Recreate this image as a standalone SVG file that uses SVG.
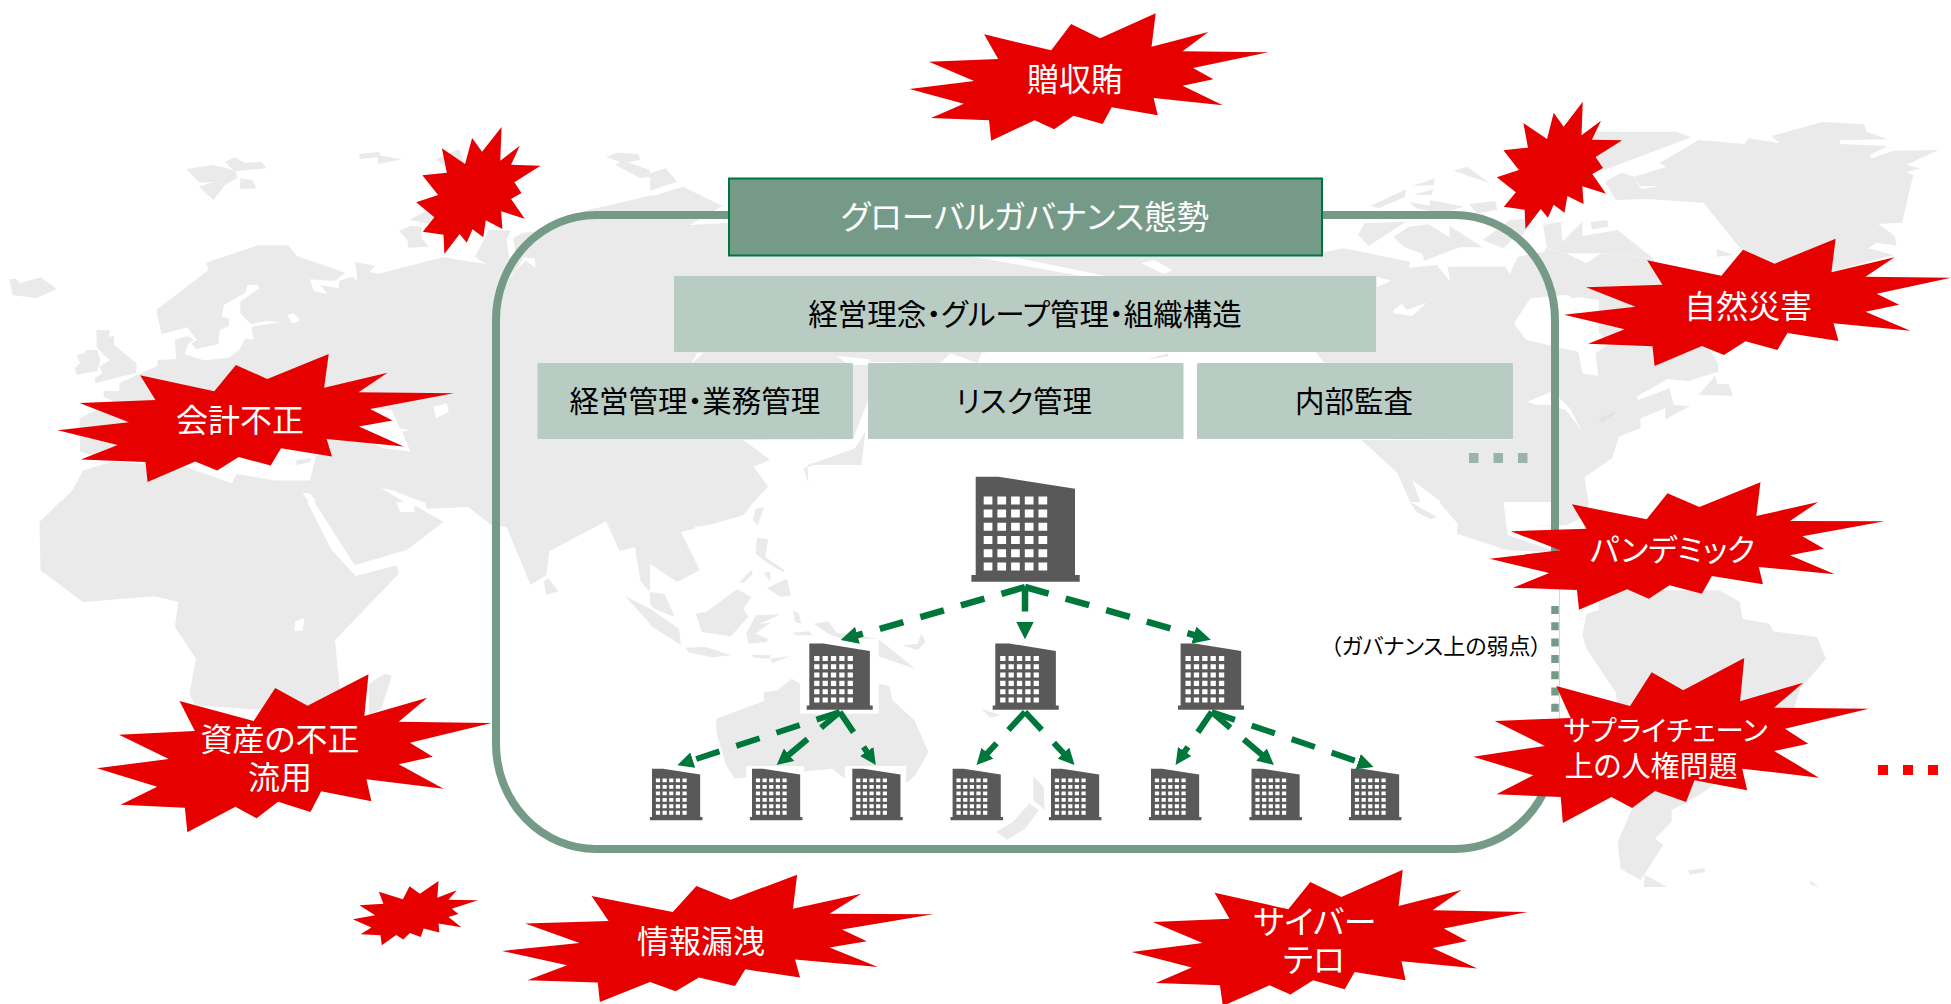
<svg xmlns="http://www.w3.org/2000/svg" width="1951" height="1004" viewBox="0 0 1951 1004">
<style>
text{font-family:"Noto Sans CJK JP","Noto Sans",sans-serif;text-anchor:middle;dominant-baseline:central;font-feature-settings:"palt"}
.g{fill:#EAEAEA}.w{fill:#fff}
.b{fill:#E60000}
.t{fill:#fff;font-size:32px}
.s{font-size:29px}
.k{fill:#000;font-size:29.500px}
.box{fill:#B9CCC3}
.c{fill:none;stroke:#00773A;stroke-dasharray:24.5 17.7;marker-end:url(#ah)}
.c1{stroke-width:6.500}.c2{stroke-width:6}
.bd{fill:#595959}.win{fill:#fff}
</style>
<defs>
<marker id="ah" markerWidth="2.700" markerHeight="2.700" refX="1.100" refY="1.350" orient="auto"><path d="M0,0L2.700,1.350L0,2.700z" fill="#00773A"/></marker>
<g id="bld"><path class="bd" d="M0,0H22.7L99.3,12V98.3H104V105H-4.3V98.3H0z"/>
<path class="win" d="M8,19.7h8.7v8h-8.7zM21.7,19.7h8.7v8h-8.7zM35.4,19.7h8.7v8h-8.7zM49.1,19.7h8.7v8h-8.7zM62.8,19.7h8.7v8h-8.7zM8,32.9h8.7v8h-8.7zM21.7,32.9h8.7v8h-8.7zM35.4,32.9h8.7v8h-8.7zM49.1,32.9h8.7v8h-8.7zM62.8,32.9h8.7v8h-8.7zM8,46.1h8.7v8h-8.7zM21.7,46.1h8.7v8h-8.7zM35.4,46.1h8.7v8h-8.7zM49.1,46.1h8.7v8h-8.7zM62.8,46.1h8.7v8h-8.7zM8,59.3h8.7v8h-8.7zM21.7,59.3h8.7v8h-8.7zM35.4,59.3h8.7v8h-8.7zM49.1,59.3h8.7v8h-8.7zM62.8,59.3h8.7v8h-8.7zM8,72.5h8.7v8h-8.7zM21.7,72.5h8.7v8h-8.7zM35.4,72.5h8.7v8h-8.7zM49.1,72.5h8.7v8h-8.7zM62.8,72.5h8.7v8h-8.7zM8,85.7h8.7v8h-8.7zM21.7,85.7h8.7v8h-8.7zM35.4,85.7h8.7v8h-8.7zM49.1,85.7h8.7v8h-8.7zM62.8,85.7h8.7v8h-8.7z"/></g>
</defs>
<g id="map">
<g transform="translate(0,0) scale(.4145,.3333)">
<polygon class="g" points="377,930 503,810 497,788 622,736 695,736 716,768 833,818 808,843 748,838 757,873 790,882 773,855 818,865 818,843 850,830 862,842 857,786 905,797 892,815 912,822 1068,772 1172,792 1146,770 1180,690 1232,692 1222,718 1230,790 1300,700 1412,632 1575,585 1575,1506 147,1506 175,1470 200,1412 270,1385 193,1355 192,1255 275,1205 250,1190 250,1173 288,1172 288,1150 380,1097 380,1080 425,1078 422,1020 452,1008 468,1020 455,1030 445,1063 492,1081 552,1073 577,1050 592,1015 612,1020 607,980 677,967 647,962 605,973 580,940 580,905 625,865 622,855 597,855 592,878 540,915 535,950 552,955 552,978 530,990 527,1032 472,1048 462,1030 475,1020 452,982 390,1003"/>
<polygon class="w" points="265,1385 445,1400 560,1450 570,1422 663,1442 748,1442 762,1370 800,1340 500,1300"/>
<polygon class="w" points="893,1225 945,1230 965,1285 990,1292 970,1295 990,1355 925,1345 850,1300"/>
<polygon class="w" points="1045,1220 1078,1210 1083,1235 1052,1255"/>
<polygon class="w" points="693,945 708,940 722,955 720,965 705,970"/>
<polygon class="w" points="730,1480 747,1480 765,1506 745,1506"/>
<polygon class="w" points="920,1465 945,1470 1020,1506 975,1506"/>
<polygon class="w" points="1195,838 1220,838 1268,782 1292,803 1290,775 1265,772 1232,830"/>
<polygon class="g" points="715,1380 752,1375 748,1387 715,1395"/>
<polygon class="g" points="23,838 38,836 48,850 98,832 137,867 88,895 30,885"/>
<polygon class="g" points="450,507 512,495 547,505 570,515 572,535 543,555 515,600 480,560 515,545 482,548"/>
<polygon class="g" points="543,485 567,472 590,488 632,486 643,505 565,514"/>
<polygon class="g" points="580,535 610,541 618,565 578,567"/>
<polygon class="g" points="867,462 915,456 918,467 970,478 912,493 912,472 868,477"/>
<polygon class="g" points="1052,478 1108,447 1120,490 1075,500"/>
<polygon class="g" points="988,660 1040,625 1070,680"/>
<polygon class="g" points="963,693 990,677 1017,680 1017,715 1035,740 985,743 983,720"/>
<polygon class="g" points="1238,715 1262,698 1335,690 1362,720 1320,708 1265,770 1245,770"/>
<polygon class="g" points="233,990 265,990 262,1010 275,1008 275,1035 330,1090 328,1120 290,1130 230,1150 228,1135 248,1120 240,1100 265,1080 250,1065 233,1040"/>
<polygon class="g" points="185,1065 205,1060 207,1050 235,1050 242,1080 235,1112 185,1125 180,1105 193,1090"/>
<polygon class="g" points="1462,470 1490,458 1540,462 1545,480 1515,487 1568,510 1568,530 1545,535 1485,495 1495,485"/>
</g>
<g transform="translate(650,0) scale(.4145,.3333)">
<polygon class="g" points="0,520 38,505 65,545 0,572"/>
<polygon class="g" points="0,590 80,560 175,618 95,675 200,668 1568,700 1568,828 1300,1000 800,1058 790,1090 725,1060 700,1090 530,1085 525,1205 490,1318 225,1320 290,1380 250,1400 285,1460 250,1506 0,1506"/>
<polygon class="w" points="770,768 880,772 1100,828 1040,828"/>
<polygon class="w" points="1185,790 1215,780 1260,810 1240,822"/>
<polygon class="w" points="100,1090 130,1058 115,1058"/>
<polygon class="w" points="450,1068 530,1078 530,1095 480,1095"/>
<polygon class="g" points="370,1405 395,1395 510,1395 520,1295 495,1345 440,1370 380,1395 382,1450"/>
<polygon class="g" points="1200,1078 1250,1060 1250,1070"/>
</g>
<g transform="translate(1300,0) scale(.4152,.3333)">
<polygon class="g" points="0,770 105,745 265,785 262,803 330,795 362,845 355,800 495,800 505,822 525,770 590,755 590,745 640,760 690,790 725,760 850,775 1007,1090 1007,1115 935,1143 885,1137 810,1190 815,1200 890,1165 900,1215 940,1218 880,1258 880,1225 820,1255 820,1285 768,1310 752,1375 685,1432 695,1506 265,1506 235,1420 148,1320 513,1318 513,1090 60,1090 0,1000"/>
<polygon class="w" points="185,830 220,842 185,862"/>
<polygon class="w" points="225,930 245,912 258,930 305,908 270,948 225,940"/>
<polygon class="w" points="555,895 640,885 720,900 720,1000 745,1030 712,1060 718,1128 680,1120 670,1055 545,1020 515,970"/>
<polygon class="w" points="548,1205 605,1175 625,1195 650,1225 680,1297 665,1270 640,1230 600,1215 570,1215"/>
<polygon class="w" points="270,1440 340,1506 290,1506"/>
<polygon class="g" points="625,855 650,855 695,885 655,895"/>
<polygon class="g" points="725,915 840,940 840,1030 760,1010 720,975"/>
<polygon points="720,1255 765,1232 755,1245 725,1270" fill="#E2E2E2"/>
<polygon class="g" points="960,1185 1000,1128 1005,1152 1033,1152 1043,1187"/>
<polygon class="g" points="1003,747 1045,765 1005,770"/>
<polygon class="g" points="960,420 1070,432 1080,415 1155,430 1135,408 1258,366 1358,373 1365,395 1418,418 1300,420 1300,432 1415,438 1372,465 1378,475 1430,452 1538,450 1460,495 1495,505 1460,517 1477,525 1450,668 1393,672 1433,708 1437,737 1390,728 1368,745 1430,765 1280,815 1100,790 1050,730 972,608 835,597 815,570 865,558 820,558 805,530 883,500 865,490"/>
<polygon class="g" points="700,395 905,395 942,412 733,510 715,470"/>
<polygon class="g" points="735,545 775,518 805,530 835,597 760,600"/>
<polygon class="g" points="170,618 255,568 253,590 190,625"/>
<polygon class="g" points="272,558 325,535 322,555"/>
<polygon class="g" points="272,585 322,568 316,585"/>
<polygon class="g" points="370,512 403,500 457,550"/>
<polygon class="g" points="262,605 312,617 313,600 395,620 340,640 280,625"/>
<polygon class="g" points="408,612 470,603 475,630 425,640"/>
<polygon class="g" points="140,705 155,670 255,665 165,738"/>
<polygon class="g" points="225,710 262,680 310,673 360,712 360,677 440,742 385,742 300,782 295,762 250,740"/>
<polygon class="g" points="505,660 560,655 540,700 510,720 490,745 440,720"/>
<polygon class="g" points="585,675 628,665 632,725 680,665 680,708 765,690 850,775 730,760 640,760 595,745"/>
<polygon class="g" points="700,665 740,660 743,680 703,688"/>
</g>
<g transform="translate(0,502) scale(.4145,.3333)">
<polygon class="g" points="147,-3 95,60 98,205 200,300 375,283 430,300 422,375 473,470 457,575 470,610 820,640 820,560 808,415 962,215 957,190 858,222 798,140 740,-3"/>
<polygon class="w" points="712,358 735,348 730,385 710,387"/>
<polygon class="g" points="890,545 928,515 945,522 920,620 890,640"/>
<polygon class="g" points="757,-3 856,190 982,143 1070,60 1000,10 1000,30 965,30 955,-3"/>
<polygon class="g" points="1030,20 1130,15 1186,70 1222,75 1280,248 1318,220 1325,148 1462,58 1495,148 1532,135 1545,238 1568,270 1568,-3 1025,-3"/>
<polygon class="g" points="1312,240 1322,228 1347,268 1318,280"/>
<polygon class="g" points="1508,282 1568,320 1568,365"/>
</g>
<g transform="translate(650,502) scale(.4145,.3333)">
<polygon class="g" points="0,0 250,0 225,40 140,70 75,90 120,205 65,240 0,185"/>
<polygon class="w" points="108,75 140,70 135,105 110,118"/>
<polygon class="g" points="255,20 275,15 260,70 248,55"/>
<polygon class="g" points="258,108 285,112 278,165 325,205 320,210 280,180 255,155"/>
<polygon class="g" points="0,270 35,275 60,345 10,320 0,305"/>
<polygon class="g" points="0,320 70,380 75,430 0,370"/>
<polygon class="g" points="110,335 135,330 210,262 245,285 225,320 237,345 195,403 125,390"/>
<polygon class="g" points="232,395 255,340 315,337 265,365 290,362 255,395 285,412 282,420 238,425"/>
<polygon class="g" points="85,437 135,435 195,460 150,466 95,452"/>
<polygon class="g" points="245,458 290,460 290,470 250,467"/>
<polygon class="g" points="290,470 340,462 295,483"/>
<polygon class="g" points="215,240 245,205 248,215 225,243"/>
<polygon class="g" points="275,212 290,210 290,240"/>
<polygon class="g" points="282,258 330,230 340,280 315,285"/>
<polygon class="g" points="345,325 360,335 365,365 350,360"/>
<polygon class="g" points="345,392 385,388 392,400 350,400"/>
<polygon class="g" points="395,365 430,358 450,392 500,400 550,410 640,500 555,465 500,430 430,395"/>
<polygon class="g" points="610,430 645,425 655,395 665,420 645,445"/>
<polygon class="g" points="160,650 275,597 275,570 308,565 342,530 362,545 552,545 578,552 585,595 638,655 672,750 640,820 618,845 470,830 440,800 205,830 183,790 160,690"/>
<polygon class="g" points="925,822 950,855 952,925 925,895"/>
<polygon class="g" points="835,990 875,960 915,905 938,925 905,980 862,1013"/>
<polygon class="g" points="800,620 845,640 820,647"/>
<rect class="w" x="362" y="410" width="190" height="225"/>
<rect class="w" x="232" y="792" width="140" height="70"/>
<rect class="w" x="470" y="792" width="148" height="70"/>
</g>
<g transform="translate(1300,502) scale(.4152,.3333)">
<polygon class="g" points="265,0 330,45 315,52 280,30"/>
<polygon class="g" points="335,0 490,0 500,100 620,150 500,145 378,95 380,65"/>
<polygon class="g" points="605,0 695,0 695,40 640,70 565,72 605,68"/>
<polygon class="g" points="690,335 720,325 720,300 790,265 1010,265 1060,300 1065,350 1130,365 1140,388 1245,405 1267,470 1205,560 1190,620 990,855 960,880 895,925 895,960 855,1010 875,1030 820,1135 772,1100 765,1020 800,920 760,570 690,440 680,400"/>
<polygon class="g" points="830,1118 885,1155 828,1155"/>
<polygon class="g" points="935,1105 975,1098 975,1110 938,1118"/>
<polygon class="g" points="1228,1135 1250,1155 1230,1148"/>
</g>
</g>
<g id="panel">
<rect x="496" y="215" width="1059" height="634" rx="100" ry="105" fill="none" stroke="#769A88" stroke-width="8"/>
<line x1="1555" y1="589" x2="1555" y2="719" stroke="#fff" stroke-width="9"/>
<line x1="1555" y1="606" x2="1555" y2="719" stroke="#769A88" stroke-width="7.500" stroke-dasharray="8 8.300"/>
<line x1="1559.500" y1="589" x2="1559.500" y2="719" stroke="#CFDCD6" stroke-width="1"/>
</g>
<g id="header"><rect x="729" y="178.500" width="593" height="77" fill="#769A88" stroke="#00773A" stroke-width="2"/><text class="t" x="1025" y="214" style="font-size:32.500px">グローバルガバナンス態勢</text></g>
<g id="box-top"><rect class="box" x="674" y="276" width="702" height="76" rx="1"/><text class="k" x="1025" y="312">経営理念・グループ管理・組織構造</text></g>
<g id="box-a"><rect class="box" x="537.500" y="363" width="315.500" height="76" rx="1"/><text class="k" x="695" y="399">経営管理・業務管理</text></g>
<g id="box-b"><rect class="box" x="868" y="363" width="315.500" height="76" rx="1"/><text class="k" x="1024" y="399">リスク管理</text></g>
<g id="box-c"><rect class="box" x="1197" y="363" width="316" height="76" rx="1"/><text class="k" x="1354" y="399">内部監査</text></g>
<g id="dots-green" fill="#9AB5A7"><rect x="1469" y="453" width="9.500" height="10"/><rect x="1493.500" y="453" width="9.500" height="10"/><rect x="1518" y="453" width="9.500" height="10"/></g>
<g id="buildings">
<use id="hq" href="#bld" transform="translate(975.700,476.700)"/>
<use href="#bld" transform="translate(809.300,643.500) scale(.61,.63)"/>
<use href="#bld" transform="translate(995.300,643.500) scale(.61,.63)"/>
<use href="#bld" transform="translate(1180.600,643.500) scale(.61,.63)"/>
<use href="#bld" transform="translate(652,768.700) scale(.485,.492)"/>
<use href="#bld" transform="translate(752,768.700) scale(.485,.492)"/>
<use href="#bld" transform="translate(852.300,768.700) scale(.485,.492)"/>
<use href="#bld" transform="translate(952.600,768.700) scale(.485,.492)"/>
<use href="#bld" transform="translate(1051,768.700) scale(.485,.492)"/>
<use href="#bld" transform="translate(1151,768.700) scale(.485,.492)"/>
<use href="#bld" transform="translate(1251.500,768.700) scale(.485,.492)"/>
<use href="#bld" transform="translate(1351,768.700) scale(.485,.492)"/>
</g>
<g id="connectors">
<line class="c c1" x1="1025" y1="587" x2="850.600" y2="637.200"/>
<line class="c c1" x1="1025" y1="587" x2="1025" y2="629"/>
<line class="c c1" x1="1025" y1="587" x2="1200.800" y2="637"/>
<line class="c c2" x1="839.800" y1="712" x2="686.500" y2="762.200"/>
<line class="c c2" x1="839.800" y1="712" x2="784" y2="758.900"/>
<line class="c c2" x1="839.800" y1="712" x2="870.400" y2="757"/>
<line class="c c2" x1="1025" y1="712" x2="983" y2="758"/>
<line class="c c2" x1="1025" y1="712" x2="1068" y2="758"/>
<line class="c c2" x1="1211.700" y1="712" x2="1181" y2="757"/>
<line class="c c2" x1="1211.700" y1="712" x2="1266.600" y2="758.800"/>
<line class="c c2" x1="1211.700" y1="712" x2="1364.400" y2="763.800"/>
</g>
<g id="burst-small-1" transform="translate(0,0) scale(.4145,.3333)"><polygon class="b" points="1210,381 1207,482 1254,437 1233,494 1304,497 1241,547 1258,579 1233,597 1266,656 1209,634 1212,687 1172,661 1166,712 1140,688 1126,728 1109,702 1072,762 1070,704 1020,695 1048,652 1004,607 1057,585 1019,526 1078,518 1066,445 1122,492 1139,414 1163,455"/></g>
<g id="burst-small-2" transform="translate(1300,0) scale(.4152,.3333)"><polygon class="b" points="681,305 678,406 725,362 703,419 776,421 712,471 730,504 704,522 737,581 680,559 683,612 644,588 637,638 611,614 597,653 580,627 543,687 541,629 491,620 520,577 474,532 527,510 490,451 549,443 538,369 595,417 611,338 635,380"/></g>
<g id="burst-small-3" transform="translate(0,502) scale(.4145,.3333)"><polygon class="b" points="1058,1137 1055,1187 1102,1165 1082,1193 1153,1195 1090,1220 1106,1236 1082,1245 1113,1276 1058,1265 1060,1292 1022,1280 1015,1305 989,1293 973,1313 956,1299 921,1330 918,1300 870,1297 896,1277 851,1252 905,1240 867,1210 925,1205 914,1169 972,1192 988,1153 1013,1175"/></g>
<g id="burst-accounting"><polygon class="b" transform="scale(.4145,.3333)" points="793,1062 782,1163 935,1118 865,1177 1095,1180 893,1227 947,1262 866,1280 974,1340 788,1317 801,1370 678,1345 653,1397 576,1371 524,1412 471,1385 356,1446 351,1386 195,1379 284,1335 139,1291 311,1267 192,1209 375,1200 338,1126 517,1174 569,1095 645,1137"/><text class="t" x="240" y="418">会計不正</text></g>
<g id="burst-bribery"><polygon class="b" transform="translate(650,0) scale(.4145,.3333)" points="1220,40 1210,140 1347,96 1285,154 1492,157 1310,204 1359,238 1285,257 1382,316 1215,294 1225,346 1114,322 1092,372 1022,347 975,388 928,361 823,422 818,361 678,354 757,311 626,267 782,243 673,185 840,177 806,103 968,151 1016,72 1086,115"/><text class="t" x="1075" y="77">贈収賄</text></g>
<g id="burst-disaster"><polygon class="b" transform="translate(1300,0) scale(.4152,.3333)" points="1290,716 1280,817 1432,772 1362,830 1568,833 1389,881 1443,914 1362,935 1470,992 1285,970 1297,1023 1174,999 1150,1050 1073,1024 1021,1065 968,1038 854,1098 849,1039 694,1031 782,988 636,944 808,920 689,862 873,854 836,781 1015,827 1067,749 1143,791"/><text class="t" x="1748" y="304">自然災害</text></g>
<g id="burst-pandemic"><polygon class="b" transform="translate(1300,502) scale(.4152,.3333)" points="1109,-59 1099,42 1248,0 1180,57 1408,58 1210,103 1262,140 1180,160 1288,217 1105,195 1115,247 992,222 968,275 890,250 840,290 788,262 672,323 667,264 513,257 600,213 457,170 627,145 508,88 690,80 655,7 835,52 885,-26 962,15"/><text class="t" x="1672.500" y="547" style="font-size:31px">パンデミック</text></g>
<g id="burst-supply"><polygon class="b" transform="translate(1300,502) scale(.4152,.3333)" points="1070,468 1060,598 1212,542 1142,617 1370,620 1168,680 1224,725 1142,747 1250,827 1065,800 1077,865 950,835 930,900 855,867 800,918 750,885 633,963 628,885 473,877 562,820 417,764 590,732 469,657 652,648 617,552 795,612 847,511 923,565"/><text class="t s"><tspan x="1665.500" y="728" style="font-size:28.500px">サプライチェーン</tspan><tspan x="1651" y="764" style="font-size:29px">上の人権問題</tspan></text></g>
<g id="burst-assets"><polygon class="b" transform="translate(0,502) scale(.4145,.3333)" points="889,517 879,642 1031,587 962,659 1186,663 989,722 1044,764 962,787 1070,860 884,832 896,898 775,868 749,930 671,899 619,949 568,914 452,991 446,917 291,908 379,854 234,799 407,771 287,698 470,687 433,597 612,657 664,558 742,611"/><text class="t"><tspan x="280" y="737">資産の不正</tspan><tspan x="280" y="775">流用</tspan></text></g>
<g id="burst-leak"><polygon class="b" transform="translate(650,502) scale(.4145,.3333)" points="355,1118 345,1220 510,1175 433,1235 683,1237 463,1283 523,1318 433,1337 550,1395 350,1373 362,1427 230,1402 205,1452 118,1427 62,1468 0,1440 -121,1500 -126,1442 -296,1435 -200,1390 -357,1347 -170,1323 -301,1265 -100,1257 -141,1182 55,1230 112,1152 195,1193"/><text class="t" x="701" y="939">情報漏洩</text></g>
<g id="burst-cyber"><polygon class="b" transform="translate(650,502) scale(.4145,.3333)" points="1816,1103 1806,1212 1958,1164 1888,1225 2118,1230 1915,1280 1971,1317 1888,1338 1996,1400 1813,1378 1823,1435 1700,1410 1676,1462 1600,1435 1545,1478 1495,1450 1382,1512 1375,1450 1220,1443 1307,1397 1162,1350 1333,1323 1213,1260 1398,1250 1362,1172 1540,1222 1593,1140 1668,1185"/><text class="t"><tspan x="1315" y="920" style="font-size:33px">サイバー</tspan><tspan x="1314" y="958" style="font-size:33px">テロ</tspan></text></g>
<g id="note"><text x="1436" y="644" fill="#000" style="font-size:22px">（ガバナンス上の弱点）</text></g>
<g id="dots-red" fill="#FF0000"><rect x="1878" y="765" width="10" height="10"/><rect x="1903" y="765" width="10" height="10"/><rect x="1928" y="765" width="10" height="10"/></g>
</svg>
